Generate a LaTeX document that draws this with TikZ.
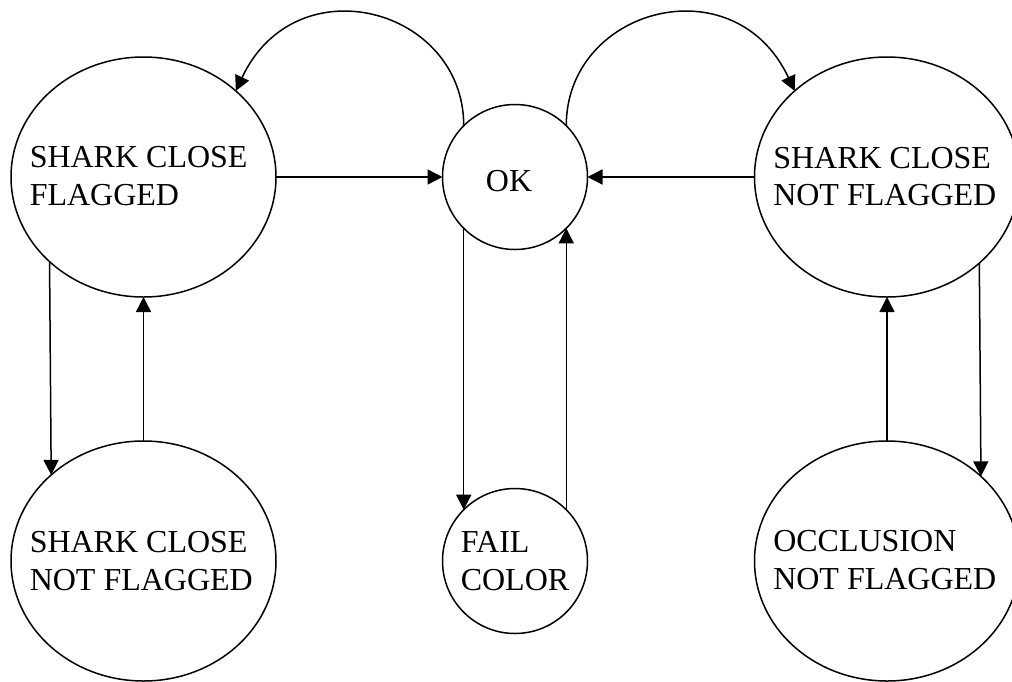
\documentclass[tikz,border=0pt]{standalone}
\usepackage{fontspec}
\setmainfont{Liberation Serif}
\usetikzlibrary{arrows.meta,shapes.geometric}
\newcommand\statefont{\fontsize{32}{37.5}\selectfont}

\begin{document}
\begin{tikzpicture}[x=1pt,y=1pt,
  line width=1.5pt,
  bigstate/.style={draw, ellipse, minimum width=265pt, minimum height=240pt,
    inner sep=0pt, outer sep=0pt},
  smallstate/.style={draw, circle, minimum size=145pt, inner sep=0pt,
    outer sep=0pt, align=left, font=\statefont},
  statetext/.style={inner sep=0pt, align=left, anchor=west, font=\statefont},
  edge/.style={-{Triangle[length=15pt,width=15pt]}}
]
% page frame
\fill[white] (0,0) rectangle (1012,-681);
\useasboundingbox (0,0) rectangle (1012,-681);

% states
\node[bigstate]   (tl)   at (143.5,-177) {};
\node[smallstate] (ok)   at (515,-177)   {};
\node[bigstate]   (tr)   at (887,-177)   {};
\node[bigstate]   (bl)   at (143.5,-561) {};
\node[smallstate] (fail) at (515,-561)   {FAIL\\COLOR};
\node[bigstate]   (br)   at (887,-561)   {};

% state names
\node[statetext] (tl-name) at (29,-176) {SHARK CLOSE\\FLAGGED};
\node[statetext] (tr-name) at (772.5,-176.5) {SHARK CLOSE\\NOT FLAGGED};
\node[statetext] (bl-name) at (29,-561) {SHARK CLOSE\\NOT FLAGGED};
\node[statetext] (br-name) at (772.5,-560) {OCCLUSION\\NOT FLAGGED};
\node[statetext, anchor=center] (ok-name) at (509,-181) {OK};

% transitions into OK
\draw[edge] (tl.east) -- (ok.west);
\draw[edge] (tr.west) -- (ok.east);
\draw[edge] (fail.45) -- (ok.315);

% transitions out of OK
\draw[edge] (ok.135) .. controls +(0,118) and +(60,128) .. (tl.43);
\draw[edge] (ok.45) .. controls +(0,118) and +(-60,128) .. (tr.137);
\draw[edge] (ok.225) -- (fail.135);

% left column
\draw[edge] (tl.222.3) -- (bl.137.7);
\draw[edge] (bl.north) -- (tl.south);

% right column
\draw[edge] (tr.317.7) -- (br.42.3);
\draw[edge] (br.north) -- (tr.south);
\end{tikzpicture}
\end{document}
